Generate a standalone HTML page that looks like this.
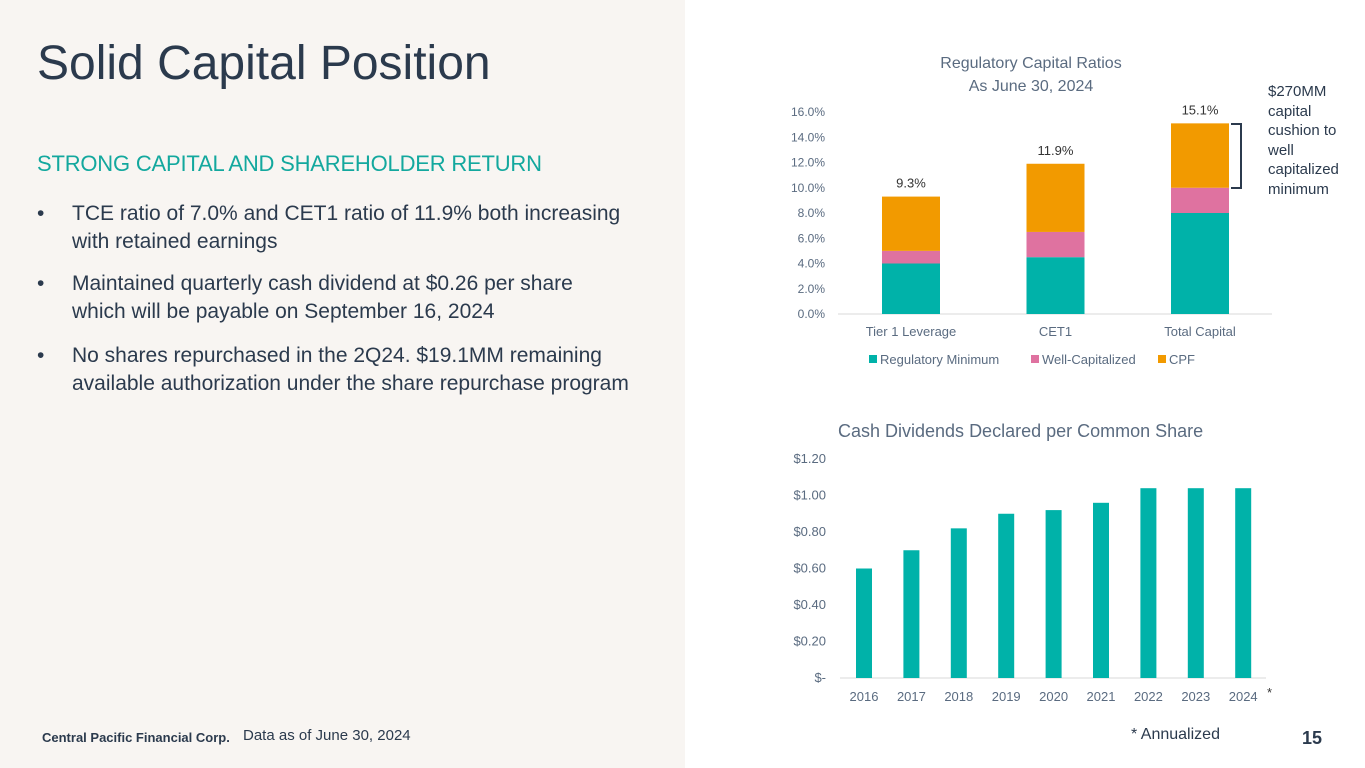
<!DOCTYPE html>
<html><head><meta charset="utf-8"><style>
body{margin:0;width:1365px;height:768px;position:relative;font-family:"Liberation Sans",sans-serif;background:#fff;overflow:hidden}
.left{position:absolute;left:0;top:0;width:685px;height:768px;background:#f8f5f2}
.t{position:absolute;white-space:nowrap}
.b{position:absolute;left:37px;font-size:21px;line-height:28px;color:#2b3a4d;white-space:nowrap}
.b span{position:absolute;left:35px;top:0}
svg text{font-family:"Liberation Sans",sans-serif}
</style></head><body>
<div class="left"></div>
<div class="t" style="left:37px;top:36px;font-size:48px;color:#2b3a4d">Solid Capital Position</div>
<div class="t" style="left:37px;top:151px;font-size:22px;color:#13a89e;letter-spacing:-0.2px">STRONG CAPITAL AND SHAREHOLDER RETURN</div>
<div class="b" style="top:200px">•<span>TCE ratio of 7.0% and CET1 ratio of 11.9% both increasing<br>with retained earnings</span></div>
<div class="b" style="top:270px">•<span>Maintained quarterly cash dividend at $0.26 per share<br>which will be payable on September 16, 2024</span></div>
<div class="b" style="top:342px">•<span>No shares repurchased in the 2Q24. $19.1MM remaining<br>available authorization under the share repurchase program</span></div>
<div class="t" style="left:42px;top:730px;font-size:13px;font-weight:bold;color:#2b3a4d">Central Pacific Financial Corp.</div>
<div class="t" style="left:243px;top:727px;font-size:15px;color:#2b3a4d">Data as of June 30, 2024</div>
<div class="t" style="left:1131px;top:726px;font-size:16px;color:#2b3a4d">* Annualized</div>
<div class="t" style="left:1302px;top:728px;font-size:18px;font-weight:bold;color:#2b3a4d">15</div>
<div class="t" style="left:1268px;top:82px;font-size:15px;line-height:19.5px;color:#2b3a4d">$270MM<br>capital<br>cushion to<br>well<br>capitalized<br>minimum</div>
<svg id="c" width="1365" height="768" style="position:absolute;left:0;top:0"></svg>
<script>
const capCats=["Tier 1 Leverage","CET1","Total Capital"];
const regMin=[4.0,4.5,8.0];
const wellCap=[1.0,2.0,2.0];
const cpf=[4.3,5.4,5.1];
const totalLabels=["9.3%","11.9%","15.1%"];
const capTicks=[0,2,4,6,8,10,12,14,16];
const divYears=["2016","2017","2018","2019","2020","2021","2022","2023","2024"];
const divVals=[0.60,0.70,0.82,0.90,0.92,0.96,1.04,1.04,1.04];
const divTicks=[0,0.2,0.4,0.6,0.8,1.0,1.2];
const NS="http://www.w3.org/2000/svg",svg=document.getElementById('c');
function mk(tag,a,txt){const e=document.createElementNS(NS,tag);for(const k in a)e.setAttribute(k,a[k]);if(txt!==undefined)e.textContent=txt;svg.appendChild(e);return e;}
const G="#5a6b80";
const y1=v=>314-v*12.625, x1=i=>911+i*144.5;
let e=mk('text',{x:1031,y:68,'text-anchor':'middle','font-size':16,fill:G},'Regulatory Capital Ratios');

e=mk('text',{x:1031,y:91,'text-anchor':'middle','font-size':16,fill:G},'As June 30, 2024');

capTicks.forEach(t=>{e=mk('text',{x:825,y:y1(t)+4,'text-anchor':'end','font-size':12,fill:G},t.toFixed(1)+'%');
});
e=mk('line',{x1:838,x2:1272,y1:y1(0),y2:y1(0),stroke:'#d9d9d9'});

capCats.forEach((c,i)=>{
 const segs=[[regMin[i],'#00b2a9','bar-regulatory-minimum'],[wellCap[i],'#df72a0','bar-well-capitalized'],[cpf[i],'#f29a00','bar-cpf']];
 let base=0;
 segs.forEach(s=>{e=mk('rect',{x:x1(i)-29,y:y1(base+s[0]),width:58,height:y1(base)-y1(base+s[0]),fill:s[1]});
 base+=s[0];});
 e=mk('text',{x:x1(i),y:y1(base)-9,'text-anchor':'middle','font-size':13,fill:'#333'},totalLabels[i]);
 
 e=mk('text',{x:x1(i),y:336,'text-anchor':'middle','font-size':13,fill:G},c);
 
});
[[869,'#00b2a9','Regulatory Minimum'],[1031,'#df72a0','Well-Capitalized'],[1158,'#f29a00','CPF']].forEach(l=>{
 e=mk('rect',{x:l[0],y:355,width:8,height:8,fill:l[1]});
 e=mk('text',{x:l[0]+11,y:364,'font-size':13,fill:G},l[2]);
});
e=mk('path',{d:'M1231 124 H1241 V188 H1231',fill:'none',stroke:'#2b3a4d','stroke-width':2});

const y2=v=>678-v*182.5, x2=i=>864+i*47.4;
e=mk('text',{x:838,y:437,'font-size':18,fill:G},'Cash Dividends Declared per Common Share');

divTicks.forEach(t=>{e=mk('text',{x:826,y:y2(t)+4,'text-anchor':'end','font-size':13,fill:G},t===0?'$-':'$'+t.toFixed(2));
});
e=mk('line',{x1:840,x2:1266,y1:y2(0),y2:y2(0),stroke:'#d9d9d9'});

divYears.forEach((yr,i)=>{
 e=mk('rect',{x:x2(i)-8,y:y2(divVals[i]),width:16,height:y2(0)-y2(divVals[i]),fill:'#00b2a9'});
 
 e=mk('text',{x:x2(i),y:701,'text-anchor':'middle','font-size':13,fill:G},yr);
 
});
e=mk('text',{x:1267,y:697,'font-size':13,fill:'#333'},'*');

</script>
</body></html>
